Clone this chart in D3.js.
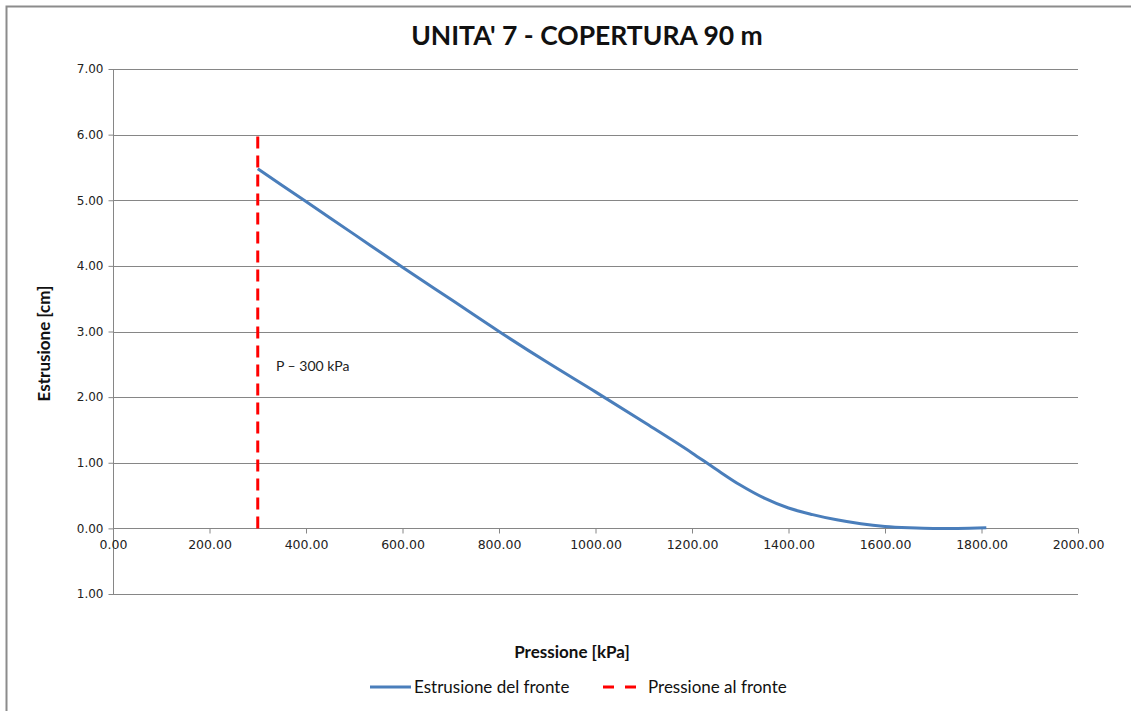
<!DOCTYPE html>
<html>
<head>
<meta charset="utf-8">
<script src="https://cdn.jsdelivr.net/npm/d3@7"></script>
<style>
  html, body { margin: 0; padding: 0; background: #fff; overflow: hidden; }
  svg { display: block; }
</style>
</head>
<body>
<svg id="chart"></svg>
<script>
// estrusione del fronte: pressione [kPa] vs estrusione [cm]
const pressure = [300, 400, 500, 600, 700, 800, 900, 1000, 1100, 1200, 1250, 1300, 1350, 1400, 1450, 1500, 1550, 1600, 1650, 1700, 1750, 1810];
const extrusion = [5.48, 4.98, 4.48, 3.98, 3.49, 3.00, 2.53, 2.08, 1.62, 1.15, 0.90, 0.66, 0.46, 0.31, 0.21, 0.13, 0.07, 0.03, 0.01, 0.00, 0.00, 0.01];
const frontX = [300, 300];
const frontY = [0, 6];
const xTicks = [0, 200, 400, 600, 800, 1000, 1200, 1400, 1600, 1800, 2000];
const yTicks = [-1, 0, 1, 2, 3, 4, 5, 6, 7];

const W = 1131, H = 711;
const svg = d3.select('#chart').attr('width', W).attr('height', H);

const x = d3.scaleLinear().domain([0, 2000]).range([113, 1078]);
const y = d3.scaleLinear().domain([-1, 7]).range([594, 69]);
const grey = '#868686';

// outer border (only top/left edges are inside the picture)
svg.append('path')
    .attr('d', `M6.5,${H + 10}V6.5H${W + 10}`)
    .attr('fill', 'none').attr('stroke', '#8c8c8c').attr('stroke-width', 2);

// horizontal gridlines
svg.append('g').selectAll('line')
    .data(yTicks.filter(d => d !== 0))
    .enter().append('line')
    .attr('x1', x(0)).attr('x2', x(2000))
    .attr('y1', d => Math.round(y(d)) + 0.5).attr('y2', d => Math.round(y(d)) + 0.5)
    .attr('stroke', grey).attr('stroke-width', 1);

// y axis
let yAxis = svg.append('g')
    .attr('transform', `translate(${x(0) + 0.5},0)`)
    .call(d3.axisLeft(y).tickValues(yTicks).tickSize(5).tickPadding(5)
        .tickFormat(d => Math.abs(d).toFixed(2)));
yAxis.select('.domain').attr('stroke', grey).attr('d', `M-0,${y(7)}V${y(-1)}`);
yAxis.selectAll('.tick line').attr('stroke', grey);
yAxis.selectAll('text').attr('font-family', 'DejaVu Sans').attr('font-size', 12).attr('fill', '#222');

// x axis at y = 0
let xAxis = svg.append('g')
    .attr('transform', `translate(0,${Math.round(y(0)) + 0.5})`)
    .call(d3.axisBottom(x).tickValues(xTicks).tickSize(5).tickPadding(7)
        .tickFormat(d => d.toFixed(2)));
xAxis.select('.domain').attr('stroke', grey).attr('d', `M${x(0)},0H${x(2000)}`);
xAxis.selectAll('.tick line').attr('stroke', grey);
xAxis.selectAll('text').attr('font-family', 'DejaVu Sans').attr('font-size', 12.5).attr('fill', '#222');

// series
const line = d3.line().x(d => x(d[0])).y(d => y(d[1])).curve(d3.curveMonotoneX);

svg.append('path')
    .datum(d3.zip(frontX, frontY))
    .attr('d', d3.line().x(d => x(d[0])).y(d => y(d[1])))
    .attr('fill', 'none').attr('stroke', '#ff0000').attr('stroke-width', 3)
    .attr('stroke-dasharray', '12,7');

svg.append('path')
    .datum(d3.zip(pressure, extrusion))
    .attr('d', line)
    .attr('fill', 'none').attr('stroke', '#4a7ebb').attr('stroke-width', 3)
    .attr('stroke-linejoin', 'round');

// annotation
svg.append('text')
    .attr('x', 276).attr('y', 371)
    .attr('font-family', 'Lato, sans-serif').attr('font-size', 14).attr('fill', '#222')
    .text('P \u2013 300 kPa');

// titles
svg.append('text')
    .attr('x', 587).attr('y', 45).attr('text-anchor', 'middle')
    .attr('font-family', 'Lato, sans-serif').attr('font-weight', 'bold').attr('font-size', 26.5)
    .attr('fill', '#111')
    .text("UNITA' 7 - COPERTURA 90 m");

svg.append('text')
    .attr('x', 572).attr('y', 658).attr('text-anchor', 'middle')
    .attr('font-family', 'Lato, sans-serif').attr('font-weight', 'bold').attr('font-size', 17)
    .attr('fill', '#111')
    .text('Pressione [kPa]');

svg.append('text')
    .attr('transform', `translate(50,${(y(7) + y(-1)) / 2 + 12}) rotate(-90)`)
    .attr('text-anchor', 'middle')
    .attr('font-family', 'Lato, sans-serif').attr('font-weight', 'bold').attr('font-size', 17)
    .attr('fill', '#111')
    .text('Estrusione [cm]');

// legend
const legend = [
    {name: 'Estrusione del fronte', color: '#4a7ebb', dash: null, x: 370, tx: 44},
    {name: 'Pressione al fronte', color: '#ff0000', dash: '11,11', x: 603, tx: 45}
];
let lg = svg.append('g').selectAll('g').data(legend).enter().append('g')
    .attr('transform', d => `translate(${d.x},687)`);
lg.append('line')
    .attr('x1', 0).attr('x2', d => d.dash ? 34 : 41)
    .attr('stroke', d => d.color).attr('stroke-width', 3)
    .attr('stroke-dasharray', d => d.dash);
lg.append('text')
    .attr('x', d => d.tx).attr('y', 6)
    .attr('font-family', 'Lato, sans-serif').attr('font-size', 17).attr('fill', '#111')
    .text(d => d.name);
</script>
</body>
</html>
